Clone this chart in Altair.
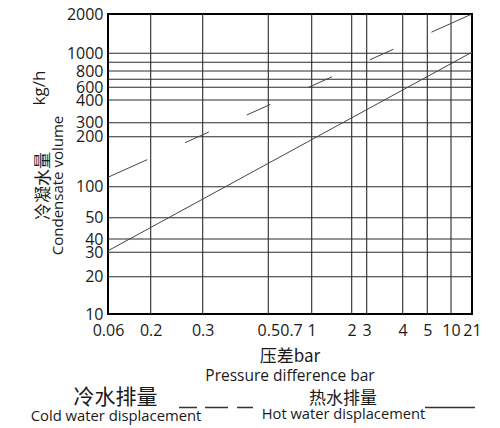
import altair as alt
import pandas as pd

# ---- data ----
pressure_ticks = [0.06, 0.2, 0.3, 0.5, 0.7, 1, 2, 3, 4, 5, 10, 21]
pressure_grid = [0.2, 0.3, 0.5, 1, 2, 3, 4, 5, 10]
flow_ticks = [10, 20, 30, 40, 50, 100, 200, 300, 400, 600, 800, 1000, 2000]
flow_grid = [20, 30, 40, 50, 100, 200, 300, 400, 600, 700, 800, 900, 1000]
cold_pressure = [0.06, 21]
cold_flow = [114, 2000]
hot_pressure = [0.06, 21]
hot_flow = [31, 1020]

W, H = 364, 300
FONT = "Open Sans"
CJK = "Noto Sans CJK SC"
INK = "#1a1a1a"

# non-uniform (hand drawn) axis layout of the original chart
x_scale = alt.Scale(
    type="linear", domain=pressure_ticks, zero=False, nice=False,
    range=[0, 42.7, 94.7, 160.3, 183, 203.7, 243.7, 258.7, 294.7, 319.3, 343, 364],
)
flow_domain = sorted(set(flow_ticks + flow_grid))
y_scale = alt.Scale(
    type="log", domain=flow_domain, nice=False,
    range=[300, 262.7, 238.3, 225, 203.7, 172.7, 122.7, 108.7, 86, 73.3, 65.3, 57, 48.3, 39.3, 0],
)

x_axis = alt.Axis(values=pressure_ticks, format="~g", grid=False, domain=False,
                  ticks=False, labelFontSize=16, labelFont=FONT, labelColor=INK,
                  labelPadding=8, labelFlush=False, labelOverlap=False, title=None)
y_axis = alt.Axis(values=flow_ticks, format="d", grid=False, domain=False,
                  ticks=False, labelFontSize=16, labelFont=FONT, labelColor=INK,
                  labelPadding=5, labelOverlap=False, title=None)

X = lambda f: alt.X(f, scale=x_scale, axis=x_axis, title=None)
Y = lambda f: alt.Y(f, scale=y_scale, axis=y_axis, title=None)

vgrid = alt.Chart(pd.DataFrame({"p": pressure_grid})).mark_rule(
    color="#2a2a2a", strokeWidth=1.1
).encode(x=X("p:Q"))

hgrid = alt.Chart(pd.DataFrame({"q": flow_grid})).mark_rule(
    color="#2a2a2a", strokeWidth=1.1
).encode(y=Y("q:Q"))

cold = alt.Chart(pd.DataFrame({"p": cold_pressure, "q": cold_flow})).mark_line(
    color="#444", strokeWidth=1,
    strokeDash=[43, 41.5, 26, 41.5, 26, 41.5, 26, 41.5, 26, 41.5, 43],
).encode(x=X("p:Q"), y=Y("q:Q"))

hot = alt.Chart(pd.DataFrame({"p": hot_pressure, "q": hot_flow})).mark_line(
    color="#444", strokeWidth=1
).encode(x=X("p:Q"), y=Y("q:Q"))


def label(txt, x, y, size, font=FONT, angle=0):
    return alt.Chart(pd.DataFrame({"t": [txt]})).mark_text(
        font=font, fontSize=size, color=INK, angle=angle,
        align="center", baseline="middle",
    ).encode(text="t:N", x=alt.value(x), y=alt.value(y))


texts = [
    label("压差bar", 182, 343, 17, CJK),
    label("Pressure difference bar", 182, 362, 15.5),
    label("冷水排量", 7.5, 384, 21, CJK),
    label("Cold water displacement", 8, 403, 14.8),
    label("热水排量", 235, 385, 17, CJK),
    label("Hot water displacement", 235.5, 401, 14.7),
    label("kg/h", -68, 74, 17, FONT, 270),
    label("冷凝水量", -64.5, 172, 17, CJK, 270),
    label("Condensate volume", -50.5, 171.5, 15, FONT, 270),
]

leg_dash = alt.Chart(pd.DataFrame({"a": [0]})).mark_rule(
    color="#333", strokeWidth=1.5, strokeDash=[18, 8, 23, 9, 16]
).encode(x=alt.value(71), x2=alt.value(145), y=alt.value(393.5))

leg_solid = alt.Chart(pd.DataFrame({"a": [0]})).mark_rule(
    color="#333", strokeWidth=1.5
).encode(x=alt.value(317), x2=alt.value(367), y=alt.value(393.5))

chart = alt.layer(vgrid, hgrid, cold, hot, leg_dash, leg_solid, *texts).properties(
    width=W, height=H,
    autosize=alt.AutoSizeParams(type="none"),
    padding={"left": 100, "top": 6, "right": 20, "bottom": 112},
).configure_view(stroke="black", strokeWidth=2)

chart.save("out.html", embed_options={"renderer": "svg", "actions": False})
